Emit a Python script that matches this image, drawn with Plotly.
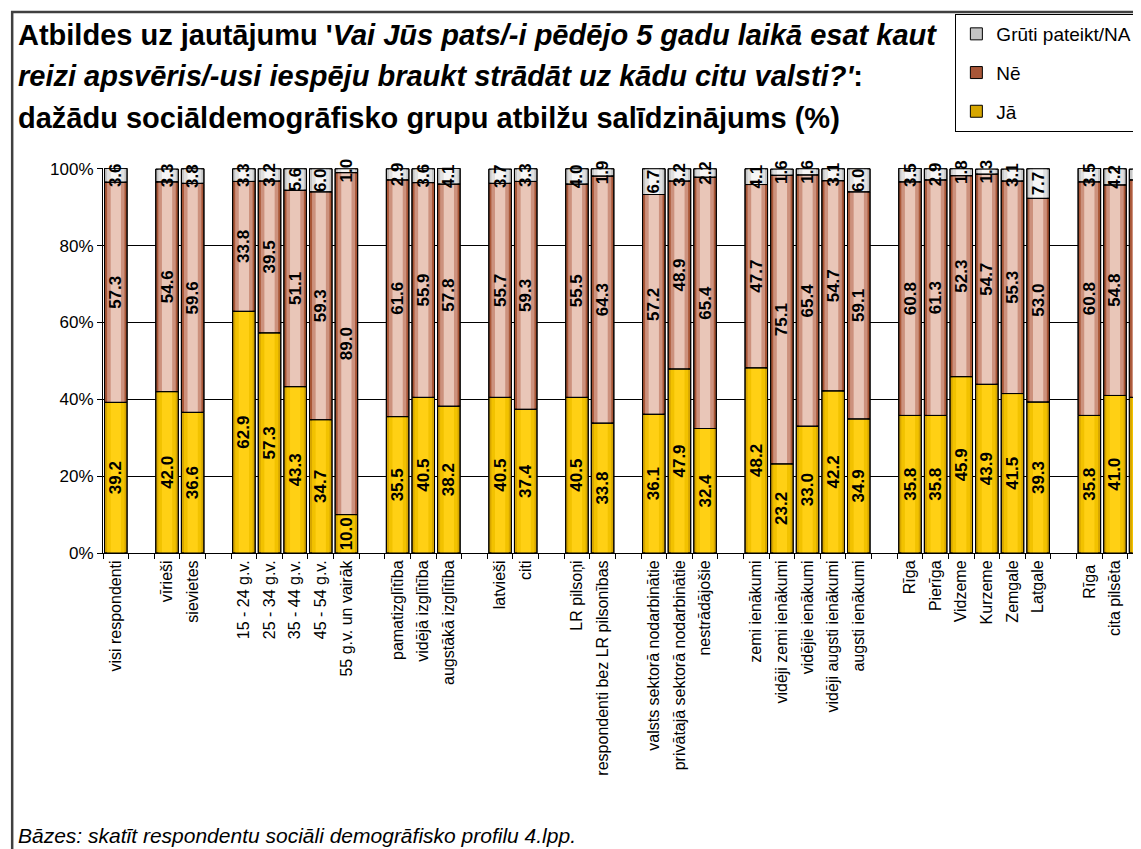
import plotly.graph_objects as go

# ---------------- data ----------------
categories = [
    "visi respondenti", " ", "vīrieši", "sievietes", "  ",
    "15 - 24 g.v.", "25 - 34 g.v.", "35 - 44 g.v.", "45 - 54 g.v.", "55 g.v. un vairāk", "   ",
    "pamatizglītība", "vidējā izglītība", "augstākā izglītība", "    ",
    "latvieši", "citi", "     ",
    "LR pilsoņi", "respondenti bez LR pilsonības", "      ",
    "valsts sektorā nodarbinātie", "privātajā sektorā nodarbinātie", "nestrādājošie", "       ",
    "zemi ienākumi", "vidēji zemi ienākumi", "vidējie ienākumi", "vidēji augsti ienākumi", "augsti ienākumi", "        ",
    "Rīga", "Pierīga", "Vidzeme", "Kurzeme", "Zemgale", "Latgale", "         ",
    "Rīga ", "cita pilsēta", "lauki",
]
ja = [39.2, None, 42.0, 36.6, None,
      62.9, 57.3, 43.3, 34.7, 10.0, None,
      35.5, 40.5, 38.2, None,
      40.5, 37.4, None,
      40.5, 33.8, None,
      36.1, 47.9, 32.4, None,
      48.2, 23.2, 33.0, 42.2, 34.9, None,
      35.8, 35.8, 45.9, 43.9, 41.5, 39.3, None,
      35.8, 41.0, 40.5]
ne = [57.3, None, 54.6, 59.6, None,
      33.8, 39.5, 51.1, 59.3, 89.0, None,
      61.6, 55.9, 57.8, None,
      55.7, 59.3, None,
      55.5, 64.3, None,
      57.2, 48.9, 65.4, None,
      47.7, 75.1, 65.4, 54.7, 59.1, None,
      60.8, 61.3, 52.3, 54.7, 55.3, 53.0, None,
      60.8, 54.8, 56.6]
gruti = [3.6, None, 3.3, 3.8, None,
         3.3, 3.2, 5.6, 6.0, 1.0, None,
         2.9, 3.6, 4.1, None,
         3.7, 3.3, None,
         4.0, 1.9, None,
         6.7, 3.2, 2.2, None,
         4.1, 1.6, 1.6, 3.1, 6.0, None,
         3.5, 2.9, 1.8, 1.3, 3.1, 7.7, None,
         3.5, 4.2, 2.8]
series_names = ["Jā", "Nē", "Grūti pateikt/NA"]
y_ticks = [0, 20, 40, 60, 80, 100]
y_ticklabels = ["0%", "20%", "40%", "60%", "80%", "100%"]

# ---------------- layout helpers ----------------
W, H = 1141, 849
ML, MR, MT, MB = 95, 0, 160, 304
PW, PH = W - ML - MR, H - MT - MB


def px_x(px):
    return (px - ML) / PW


def px_y(py):
    return (H - MB - py) / PH


# stacking bases computed from the data
base_ja = [0 if v is not None else None for v in ja]
base_ne = [j if j is not None else None for j in ja]
base_gr = [(j + n) if j is not None else None for j, n in zip(ja, ne)]

series = [
    ("Jā", ja, base_ja, ["#D6A600", "#F2C200", "#FFD014"], 3),
    ("Nē", ne, base_ne, ["#A85637", "#CC917D", "#E9C6B8"], 2),
    ("Grūti pateikt/NA", gruti, base_gr, ["#C4C4C4", "#E0E0E0", "#F6F6F6"], 1),
]
layer_widths = [0.88, 0.68, 0.40]

fig = go.Figure()
for name, vals, base, cols, rank in series:
    for k, (w, c) in enumerate(zip(layer_widths, cols)):
        fig.add_trace(go.Bar(
            x=categories, y=vals, base=base, width=w,
            name=name, legendgroup=name, legendrank=rank, showlegend=(k == 0),
            marker=dict(color=c, line=dict(color="black", width=1 if k == 0 else 0)),
            hoverinfo="skip",
        ))

# outlines + value labels on top
for name, vals, base, cols, rank in series:
    fig.add_trace(go.Bar(
        x=categories, y=vals, base=base, width=0.88,
        name=name, legendgroup=name, showlegend=False,
        marker=dict(color="rgba(0,0,0,0)", line=dict(color="black", width=1)),
        texttemplate="%{y:.1f}", textposition="inside", insidetextanchor="middle",
        textangle=-90, constraintext="none", cliponaxis=False,
        textfont=dict(family="Liberation Sans, Arial, sans-serif", size=17, color="black", weight="bold"),
        hoverinfo="skip",
    ))

font_main = "Liberation Sans, Arial, sans-serif"

title_lines = [
    "<b>Atbildes uz jautājumu '<i>Vai Jūs pats/-i pēdējo 5 gadu laikā esat kaut</i></b>",
    "<b><i>reizi apsvēris/-usi iespēju braukt strādāt uz kādu citu valsti?'</i>:</b>",
    "<b>dažādu sociāldemogrāfisko grupu atbilžu salīdzinājums (%)</b>",
]
title_y = [27, 68, 110]
annotations = []
for t, yy in zip(title_lines, title_y):
    annotations.append(dict(
        text=t, xref="paper", yref="paper", x=px_x(8), y=px_y(yy),
        xanchor="left", yanchor="middle", showarrow=False,
        font=dict(family=font_main, size=29, color="black"),
    ))
annotations.append(dict(
    text="<i>Bāzes: skatīt respondentu sociāli demogrāfisko profilu 4.lpp.</i>",
    xref="paper", yref="paper", x=px_x(8), y=px_y(827),
    xanchor="left", yanchor="middle", showarrow=False,
    font=dict(family=font_main, size=21, color="black"),
))

shapes = [dict(
    type="rect", xref="paper", yref="paper",
    x0=px_x(4), x1=px_x(1160), y0=px_y(845), y1=px_y(4),
    line=dict(color="#404040", width=2.5), fillcolor="rgba(0,0,0,0)", layer="below",
)]

fig.update_layout(
    width=W, height=H,
    margin=dict(l=ML, r=MR, t=MT, b=MB, pad=0),
    paper_bgcolor="white", plot_bgcolor="white",
    barmode="overlay",
    font=dict(family=font_main, color="black"),
    uniformtext=dict(minsize=17, mode="show"),
    showlegend=True,
    legend=dict(
        x=px_x(949), y=px_y(6), xanchor="left", yanchor="top",
        bgcolor="white", bordercolor="black", borderwidth=1,
        font=dict(family=font_main, size=19, color="black"),
        traceorder="grouped", tracegroupgap=11,
    ),
    annotations=annotations,
    shapes=shapes,
    xaxis=dict(
        type="category", categoryorder="array", categoryarray=categories,
        range=[-0.5, 40.25], tickangle=-90, tickson="boundaries",
        ticks="outside", ticklen=5, tickcolor="black",
        showline=True, linecolor="black", linewidth=1,
        showgrid=False, tickfont=dict(family=font_main, size=16, color="black"),
    ),
    yaxis=dict(
        range=[0, 100.2], tickvals=y_ticks, ticktext=y_ticklabels,
        showgrid=True, gridcolor="black", gridwidth=1,
        showline=True, linecolor="black", linewidth=1,
        ticks="outside", ticklen=5, tickcolor="black",
        tickfont=dict(family=font_main, size=17, color="black"),
        zeroline=False,
    ),
)

fig.write_html("out.html")
